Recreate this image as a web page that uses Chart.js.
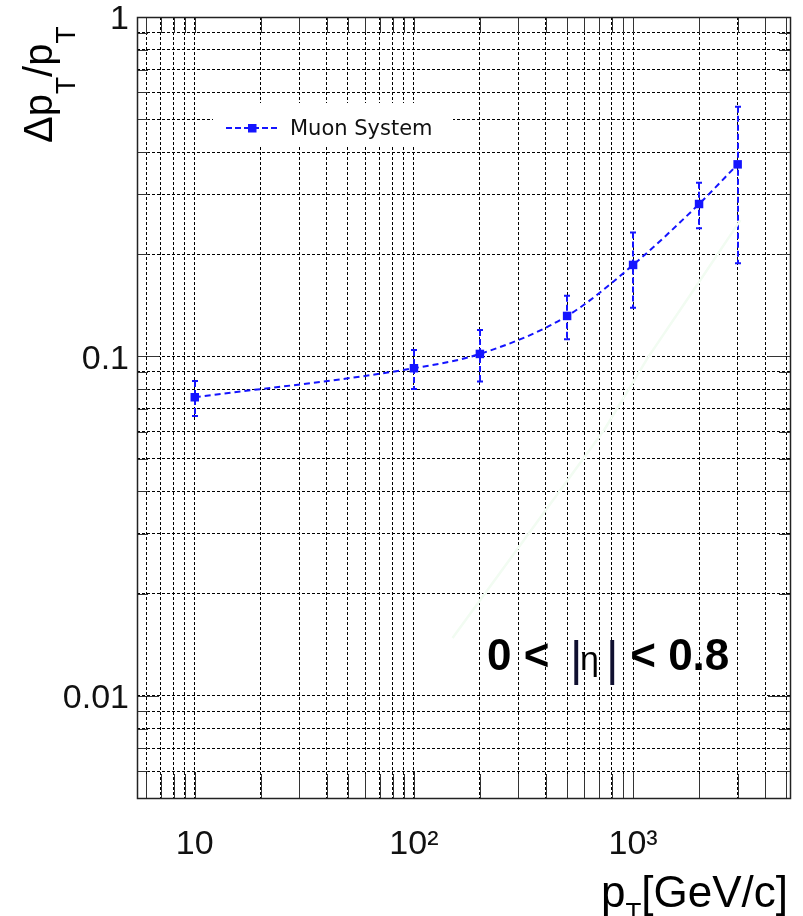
<!DOCTYPE html>
<html><head><meta charset="utf-8">
<script src="https://cdn.jsdelivr.net/npm/chart.js@4.4.1/dist/chart.umd.min.js"></script>
<style>html,body{margin:0;padding:0;background:#fff;}#wrap{width:803px;height:916px;}</style>
</head><body><div id="wrap"><canvas id="c" width="803" height="916"></canvas></div>
<script>
// ---- data ----
const ptValues   = [10, 100, 200, 500, 1000, 2000, 3000];
const resValues  = [0.0758, 0.0923, 0.1017, 0.1316, 0.186, 0.2812, 0.368];
const errUpper   = [0.0847, 0.1045, 0.1197, 0.151, 0.2316, 0.325, 0.544];
const errLower   = [0.0668, 0.0802, 0.0843, 0.1124, 0.139, 0.2385, 0.188];
const faintPt    = [150, 738, 1166, 2028, 3090];
const faintRes   = [0.0148, 0.0607, 0.099, 0.168, 0.252];
const seriesName = 'Muon System';
const xTickValues = [6,7,8,9,10,20,30,40,50,60,70,80,90,100,200,300,400,500,600,700,800,900,1000,2000,3000,4000,5000];
const yTickValues = [0.005,0.006,0.007,0.008,0.009,0.01,0.02,0.03,0.04,0.05,0.06,0.07,0.08,0.09,0.1,0.2,0.3,0.4,0.5,0.6,0.7,0.8,0.9,1];
const xMajorTicks = [10, 100, 1000];
const xTickLabels = ['10', '10²', '10³'];
const yMajorTicks = [0.01, 0.1, 1];
const yTickLabels = ['0.01', '0.1', '1'];
const xRange = [5.45, 5200];
const yRange = [0.005, 1];
const annotationText = ['0 < ', '|', 'η', '|', ' < 0.8'];

const BLUE = '#1414ff';
const SANS = '"Liberation Sans", Arial, sans-serif';

function labelFor(v, majors, labels){
  for (let i=0;i<majors.length;i++){ if (Math.abs(v-majors[i]) < majors[i]*1e-6) return labels[i]; }
  return '';
}
function isMajor(v, majors){ return majors.some(m => Math.abs(v-m) < m*1e-6); }

const rootPlugin = {
  id: 'rootStyle',
  beforeDatasetsDraw(chart){
    const ctx = chart.ctx;
    const xs = chart.scales.x, ys = chart.scales.y;
    ctx.save();
    // legend box (white, covers grid)
    ctx.fillStyle = '#fff';
    ctx.fillRect(213, 103, 240, 42);
    // error bars
    ctx.strokeStyle = BLUE; ctx.lineWidth = 2;
    for (let i=0;i<ptValues.length;i++){
      const x = Math.round(xs.getPixelForValue(ptValues[i]));
      const yT = ys.getPixelForValue(errUpper[i]);
      const yB = ys.getPixelForValue(errLower[i]);
      ctx.setLineDash([6,3]);
      ctx.beginPath(); ctx.moveTo(x, yT); ctx.lineTo(x, yB); ctx.stroke();
      ctx.setLineDash([]);
      ctx.beginPath(); ctx.moveTo(x-3, yT); ctx.lineTo(x+3, yT); ctx.moveTo(x-3, yB); ctx.lineTo(x+3, yB); ctx.stroke();
    }
    ctx.restore();
  },
  afterDraw(chart){
    const ctx = chart.ctx;
    const a = chart.chartArea;
    const xs = chart.scales.x, ys = chart.scales.y;
    ctx.save();
    // inner ticks
    ctx.strokeStyle = '#333'; ctx.lineWidth = 1; ctx.setLineDash([]);
    ctx.beginPath();
    xTickValues.forEach(v=>{
      const x = Math.round(xs.getPixelForValue(v)) + 0.5;
      const L = isMajor(v, xMajorTicks) ? 26 : 24;
      ctx.moveTo(x, a.bottom); ctx.lineTo(x, a.bottom - L);
      ctx.moveTo(x, a.top); ctx.lineTo(x, a.top + 16);
    });
    yTickValues.forEach(v=>{
      const y = Math.round(ys.getPixelForValue(v)) + 0.5;
      const L = isMajor(v, yMajorTicks) ? 22 : 11;
      ctx.moveTo(a.left, y); ctx.lineTo(a.left + L, y);
      ctx.moveTo(a.right, y); ctx.lineTo(a.right - L, y);
    });
    ctx.stroke();
    // frame
    ctx.strokeStyle = '#222'; ctx.lineWidth = 1.5;
    ctx.strokeRect(Math.round(a.left)+0.5, Math.round(a.top)+0.5, Math.round(a.right-a.left), Math.round(a.bottom-a.top));

    // legend
    ctx.strokeStyle = BLUE; ctx.lineWidth = 2; ctx.setLineDash([6,3]);
    ctx.beginPath(); ctx.moveTo(226, 128); ctx.lineTo(279, 128); ctx.stroke();
    ctx.setLineDash([]);
    ctx.fillStyle = BLUE; ctx.fillRect(248, 124, 8.5, 8.5);
    ctx.fillStyle = '#111';
    ctx.font = '21px "DejaVu Sans", Verdana, sans-serif';
    ctx.textAlign = 'left'; ctx.textBaseline = 'alphabetic';
    ctx.fillText(seriesName, 290, 135);

    // y axis title  Δp_T/p_T
    ctx.save();
    ctx.translate(52, 143); ctx.rotate(-Math.PI/2);
    ctx.fillStyle = '#000';
    let px = 0;
    const seg = (t, font, dy)=>{ ctx.font = font; ctx.fillText(t, px, dy); px += ctx.measureText(t).width; };
    seg('Δp', '40px ' + SANS, 0);
    seg('T', '28px ' + SANS, 23);
    seg('/p', '40px ' + SANS, 0);
    seg('T', '28px ' + SANS, 23);
    ctx.restore();

    // x axis title p_T[GeV/c]
    ctx.fillStyle = '#000';
    px = 601;
    const segx = (t, font, y)=>{ ctx.font = font; ctx.fillText(t, px, y); px += ctx.measureText(t).width; };
    segx('p', '44px ' + SANS, 907);
    segx('T', '26px ' + SANS, 921);
    segx('[GeV/c]', '44px ' + SANS, 907);

    // annotation 0 < |η| < 0.8
    ctx.fillStyle = '#000';
    ctx.font = 'bold 44px ' + SANS; ctx.fillText(annotationText[0], 487, 670);
    ctx.fillStyle = '#101030';
    ctx.font = '48px ' + SANS; ctx.fillText(annotationText[1], 570, 675);
    ctx.fillStyle = '#000';
    ctx.font = '34px ' + SANS; ctx.fillText(annotationText[2], 580, 670);
    ctx.fillStyle = '#101030';
    ctx.font = '48px ' + SANS; ctx.fillText(annotationText[3], 606, 675);
    ctx.fillStyle = '#000';
    ctx.font = 'bold 44px ' + SANS; ctx.fillText(annotationText[4], 618, 670);
    ctx.restore();
  }
};

new Chart(document.getElementById('c'), {
  type: 'line',
  data: {
    datasets: [
      {
        label: 'faint',
        data: faintPt.map((x,i)=>({x, y: faintRes[i]})),
        borderColor: 'rgba(242,252,242,1)', borderWidth: 2.5,
        pointRadius: 0, tension: 0, order: 2
      },
      {
        label: seriesName,
        data: ptValues.map((x,i)=>({x, y: resValues[i]})),
        borderColor: BLUE, backgroundColor: BLUE, borderWidth: 2,
        borderDash: [6,4], cubicInterpolationMode: 'monotone',
        pointStyle: 'rect', pointRadius: 6, pointBorderWidth: 0,
        pointBackgroundColor: BLUE, order: 1
      }
    ]
  },
  options: {
    responsive: false, animation: false, devicePixelRatio: 1,
    layout: { padding: { left: 0, top: 17, right: 13, bottom: 0 } },
    plugins: { legend: { display: false }, tooltip: { enabled: false } },
    scales: {
      x: {
        type: 'logarithmic', min: xRange[0], max: xRange[1],
        afterBuildTicks: s => { s.ticks = xTickValues.map(v => ({ value: v })); },
        afterFit: s => { s.height = 118; s.paddingLeft = 0; s.paddingRight = 0; },
        grid: { color: '#000', lineWidth: 1, drawTicks: false },
        border: { display: false, dash: [3,2] },
        ticks: {
          autoSkip: false, maxRotation: 0, padding: 30,
          color: '#111', font: { family: SANS, size: 34, lineHeight: 1 },
          callback: v => labelFor(v, xMajorTicks, xTickLabels)
        }
      },
      y: {
        type: 'logarithmic', min: yRange[0], max: yRange[1],
        afterBuildTicks: s => { s.ticks = yTickValues.map(v => ({ value: v })); },
        afterFit: s => { s.width = 137; s.paddingTop = 0; s.paddingBottom = 0; },
        grid: { color: '#000', lineWidth: 1, drawTicks: false },
        border: { display: false, dash: [3,2] },
        ticks: {
          autoSkip: false, padding: 8, labelOffset: 3,
          color: '#111', font: { family: SANS, size: 34, lineHeight: 1 },
          callback: v => labelFor(v, yMajorTicks, yTickLabels)
        }
      }
    }
  },
  plugins: [rootPlugin]
});
</script></body></html>
